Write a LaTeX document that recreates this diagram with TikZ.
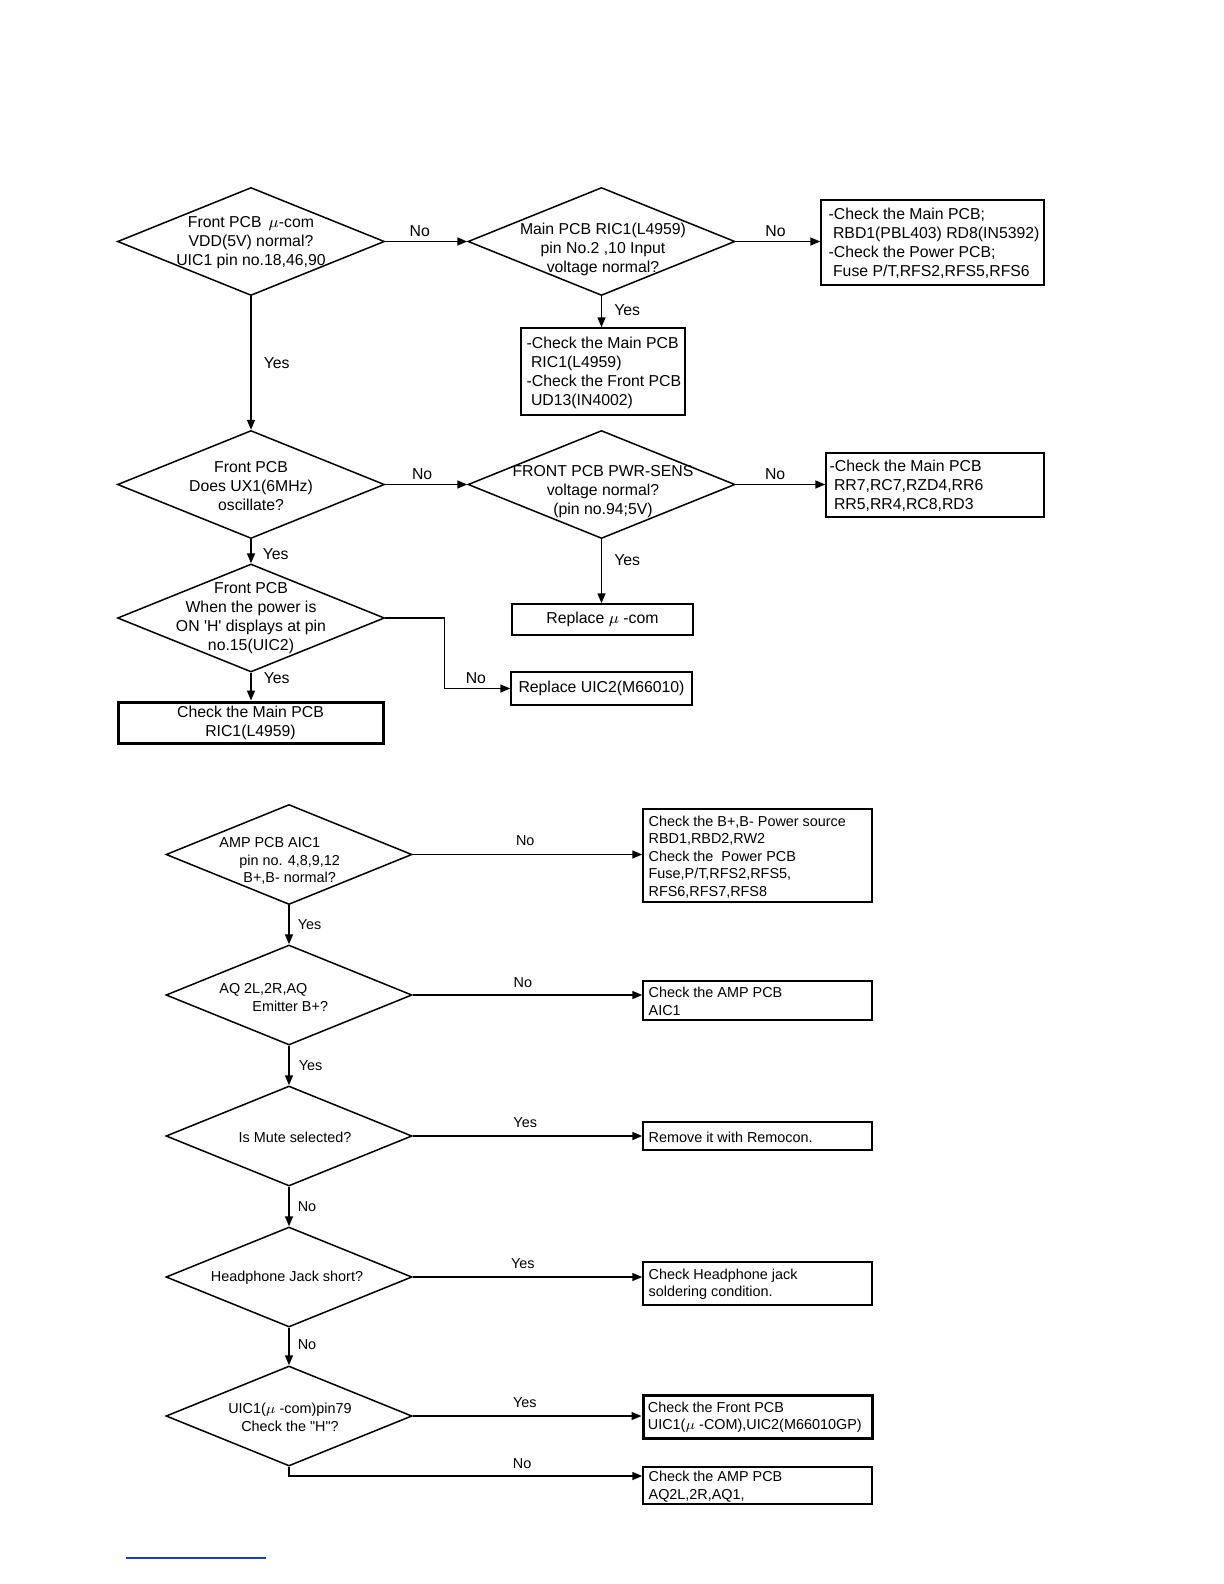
\documentclass[tikz,border=0pt]{standalone}
\usepackage{fontspec}
\setmainfont{Liberation Sans}
\usetikzlibrary{shapes.geometric,arrows.meta}
\newcommand\FTop{\fontsize{7.9}{9.5}\selectfont}
\newcommand\FBot{\fontsize{7.2}{8.75}\selectfont}
\definecolor{linkblue}{RGB}{30,60,200}
\begin{document}
\begin{tikzpicture}[x=0.5pt,y=-0.5pt,
  dia/.style={draw, shape=diamond, inner sep=0pt, line width=0.75pt},
  dtop/.style={dia, minimum width=133.5pt, minimum height=54pt},
  dbot/.style={dia, minimum width=123pt, minimum height=50pt},
  box/.style={draw, rectangle, inner sep=0pt, line width=0.75pt},
  thickbox/.style={box, line width=1.5pt},
  ttxt/.style={font=\FTop, align=center, inner sep=0pt},
  tltxt/.style={font=\FTop, align=left, inner sep=0pt, anchor=west},
  btxt/.style={font=\FBot, align=left, inner sep=0pt, anchor=west},
  arr/.style={-{Triangle[length=5pt,width=4pt]}, line width=0.75pt},
  lab/.style={font=\FTop, inner sep=1pt},
  blab/.style={font=\FBot, inner sep=1pt}]
\useasboundingbox (0,0) rectangle (1224,1584);

% ---------- top flowchart ----------
\node[dtop] (d1) at (251,241.5) {};
\node[ttxt] (d1t) at (251,242.5) {Front PCB \,$\mu$-com\\VDD(5V) normal?\\UIC1 pin no.18,46,90};

\node[dtop] (d2) at (601.5,241.5) {};
\node[ttxt] (d2t) at (603,249) {Main PCB RIC1(L4959)\\pin No.2 ,10 Input\\voltage normal?};

\node[box, minimum width=111.5pt, minimum height=42.5pt] (b1) at (932.5,242.5) {};
\node[tltxt] (b1t) at ([xshift=4pt,yshift=-0.5pt]b1.west) {-Check the Main PCB;\\\hspace*{.28em}RBD1(PBL403) RD8(IN5392)\\-Check the Power PCB;\\\hspace*{.28em}Fuse P/T,RFS2,RFS5,RFS6};

\node[box, minimum width=82pt, minimum height=43.5pt] (b2) at (603,371.5) {};
\node[tltxt] (b2t) at ([xshift=3pt,yshift=-0.5pt]b2.west) {-Check the Main PCB\\\hspace*{.28em}RIC1(L4959)\\-Check the Front PCB\\\hspace*{.28em}UD13(IN4002)};

\node[dtop] (d3) at (251,484.5) {};
\node[ttxt] (d3t) at (251,486.5) {Front PCB\\Does UX1(6MHz)\\oscillate?};

\node[dtop] (d4) at (601.5,484.5) {};
\node[ttxt] (d4t) at (603,492) {FRONT PCB PWR-SENS\\voltage normal?\\(pin no.94;5V)};

\node[box, minimum width=109pt, minimum height=32pt] (b3) at (935,485) {};
\node[tltxt] (b3t) at ([xshift=2pt,yshift=-0.5pt]b3.west) {-Check the Main PCB\\\hspace*{.28em}RR7,RC7,RZD4,RR6\\\hspace*{.28em}RR5,RR4,RC8,RD3};

\node[box, font=\FTop, minimum width=90.5pt, minimum height=15.5pt] (b4) at (602.5,619.5) {Replace $\mu$ -com};

\node[dtop] (d5) at (251,618) {};
\node[ttxt] (d5t) at (251,618.5) {Front PCB\\When the power is\\ON \textquotesingle H\textquotesingle{} displays at pin\\no.15(UIC2)};

\node[box, font=\FTop, minimum width=90.5pt, minimum height=16.5pt] (b5) at (601.5,688.5) {Replace UIC2(M66010)};

\node[thickbox, font=\FTop, align=center, minimum width=132.5pt, minimum height=20.5pt] (b6) at (250.5,722.5) {Check the Main PCB\\RIC1(L4959)};

\draw[arr] (d1.east) -- node[lab, above=1pt, pos=0.42]{No} (d1.east -| d2.west);
\draw[arr] (d2.east) -- node[lab, above=1pt, pos=0.47]{No} (d2.east -| b1.west);
\draw[arr] (d2.south) -- node[lab, right=5pt, pos=0.45]{Yes} (d2.south |- b2.north);
\draw[arr] (d1.south) -- node[lab, right=5pt, pos=0.5]{Yes} (d3.north);
\draw[arr] (d3.east) -- node[lab, above=1pt, pos=0.45]{No} (d3.east -| d4.west);
\draw[arr] (d4.east) -- node[lab, above=1pt, pos=0.44]{No} (d4.east -| b3.west);
\draw[arr] (d4.south) -- node[lab, right=5pt, pos=0.32]{Yes} (d4.south |- b4.north);
\draw[arr] (d3.south) -- node[lab, right=4.5pt, pos=0.6]{Yes} (d5.north);
\draw[arr] (d5.south) -- node[lab, right=5pt, pos=0.2]{Yes} (d5.south |- b6.north);
\draw[arr] (d5.east) -- ++(59,0) |- node[lab, above=1pt, pos=0.74]{No} (b5.west);

% ---------- bottom flowchart ----------
\node[dbot] (e1) at (289,854.5) {};
\node[btxt] (e1t) at (219,861) {AMP PCB AIC1\\\hspace*{10pt}pin no. 4,8,9,12\\\hspace*{12pt}B+,B- normal?};

\node[box, minimum width=114.5pt, minimum height=46.5pt] (c1) at (757.5,855.5) {};
\node[btxt] (c1t) at ([xshift=3pt,yshift=-0.75pt]c1.west) {Check the B+,B- Power source\\RBD1,RBD2,RW2\\Check the\ \ Power PCB\\Fuse,P/T,RFS2,RFS5,\\RFS6,RFS7,RFS8};

\node[dbot] (e2) at (289,995) {};
\node[btxt] (e2t) at (219,997.5) {AQ 2L,2R,AQ\\\hspace*{16.5pt}Emitter B+?};

\node[box, minimum width=114.5pt, minimum height=19.5pt] (c2) at (757.5,1000.5) {};
\node[btxt] (c2t) at ([xshift=3pt,yshift=-0.5pt]c2.west) {Check the AMP PCB\\AIC1};

\node[dbot] (e3) at (289,1136) {};
\node[font=\FBot, inner sep=0pt] (e3t) at (295,1137) {Is Mute selected?};

\node[box, minimum width=114.5pt, minimum height=14pt] (c3) at (757.5,1136) {};
\node[btxt] (c3t) at ([xshift=3pt,yshift=-0.5pt]c3.west) {Remove it with Remocon.};

\node[dbot] (e4) at (289,1277) {};
\node[font=\FBot, inner sep=0pt] (e4t) at (287,1278) {Headphone Jack short?};

\node[box, minimum width=114.5pt, minimum height=21.5pt] (c4) at (757.5,1283.5) {};
\node[btxt] (c4t) at ([xshift=3pt,yshift=-0.5pt]c4.west) {Check Headphone jack\\soldering condition.};

\node[dbot] (e5) at (289,1416) {};
\node[font=\FBot, align=center, inner sep=0pt] (e5t) at (290,1417.5) {UIC1($\mu$ -com)pin79\\Check the \textquotedbl H\textquotedbl?};

\node[thickbox, minimum width=114.5pt, minimum height=21.5pt] (c5) at (757.5,1416.5) {};
\node[btxt] (c5t) at ([xshift=3pt,yshift=-0.5pt]c5.west) {Check the Front PCB\\UIC1($\mu$ -COM),UIC2(M66010GP)};

\node[box, minimum width=114.5pt, minimum height=18.5pt] (c6) at (757.5,1485.5) {};
\node[btxt] (c6t) at ([xshift=3pt,yshift=-0.5pt]c6.west) {Check the AMP PCB\\AQ2L,2R,AQ1,};

\draw[arr] (e1.east) -- node[blab, above=3pt, pos=0.49]{No} (e1.east -| c1.west);
\draw[arr] (e1.south) -- node[blab, right=3pt]{Yes} (e2.north);
\draw[arr] (e2.east) -- node[blab, above=2.5pt, pos=0.48]{No} (e2.east -| c2.west);
\draw[arr] (e2.south) -- node[blab, right=3.5pt]{Yes} (e3.north);
\draw[arr] (e3.east) -- node[blab, above=3pt, pos=0.49]{Yes} (e3.east -| c3.west);
\draw[arr] (e3.south) -- node[blab, right=3pt]{No} (e4.north);
\draw[arr] (e4.east) -- node[blab, above=3pt, pos=0.48]{Yes} (e4.east -| c4.west);
\draw[arr] (e4.south) -- node[blab, right=3pt, pos=0.45]{No} (e5.north);
\draw[arr] (e5.east) -- node[blab, above=3pt, pos=0.49]{Yes} (e5.east -| c5.west);
\draw[arr] (e5.south) |- node[blab, above=2.5pt, pos=0.83]{No} ([yshift=4.75pt]c6.west);

% link underline
\draw[linkblue, line width=0.8pt] (126,1558) -- (266,1558);
\end{tikzpicture}
\end{document}
